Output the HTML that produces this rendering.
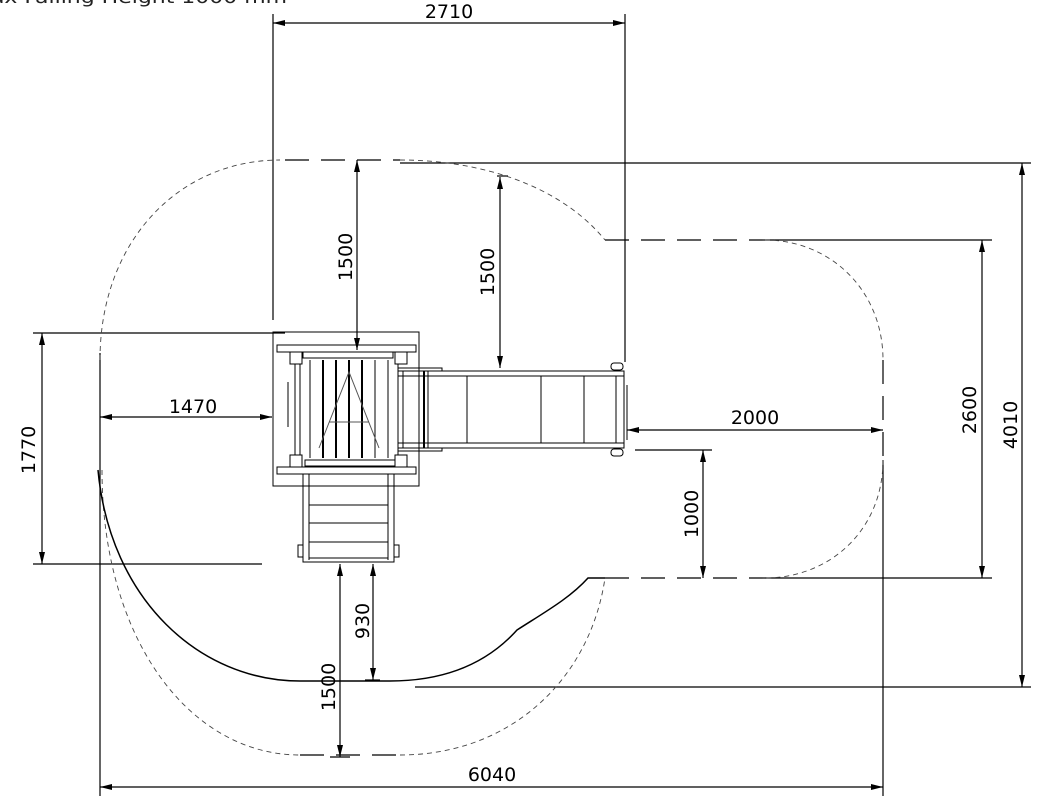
<!DOCTYPE html>
<html><head><meta charset="utf-8"><style>
html,body{margin:0;padding:0;background:#fff;}
svg{display:block;}
text{font-family:"DejaVu Sans","Liberation Sans",sans-serif;font-size:19px;fill:#000;}
</style></head><body>
<svg width="1041" height="812" viewBox="0 0 1041 812" xmlns="http://www.w3.org/2000/svg">
<defs>
<marker id="a" markerWidth="12" markerHeight="6" refX="12" refY="3" orient="auto-start-reverse" markerUnits="userSpaceOnUse">
<path d="M0,0 L12,3 L0,6 Z" fill="#000"/></marker>
</defs>
<text x="-28" y="3" textLength="315" lengthAdjust="spacingAndGlyphs" style="font-size:18px;fill:#222">Max Falling Height 1000 mm</text>
<g stroke="#000" stroke-width="1.2" fill="none">
<line x1="273" y1="14" x2="273" y2="320"/>
<line x1="625" y1="14" x2="625" y2="362"/>
<line x1="400" y1="163" x2="1031" y2="163"/>
<line x1="415" y1="687" x2="1031" y2="687"/>
<line x1="765" y1="240" x2="992" y2="240"/>
<line x1="765" y1="578" x2="992" y2="578"/>
<line x1="635" y1="450" x2="712" y2="450"/>
<line x1="33" y1="333" x2="285" y2="333"/>
<line x1="33" y1="564" x2="262" y2="564"/>
<line x1="100" y1="353" x2="100" y2="796"/>
<line x1="883" y1="460" x2="883" y2="796"/>
<line x1="330" y1="757" x2="350" y2="757"/>
<line x1="365" y1="680" x2="380" y2="680"/>
<line x1="497" y1="176" x2="508" y2="176"/>
<line x1="273" y1="23" x2="625" y2="23" marker-start="url(#a)" marker-end="url(#a)"/>
<line x1="357" y1="160" x2="357" y2="350" marker-start="url(#a)" marker-end="url(#a)"/>
<line x1="500" y1="177" x2="500" y2="368" marker-start="url(#a)" marker-end="url(#a)"/>
<line x1="1022" y1="163" x2="1022" y2="687" marker-start="url(#a)" marker-end="url(#a)"/>
<line x1="982" y1="240" x2="982" y2="578" marker-start="url(#a)" marker-end="url(#a)"/>
<line x1="703" y1="450" x2="703" y2="578" marker-start="url(#a)" marker-end="url(#a)"/>
<line x1="627" y1="430" x2="883" y2="430" marker-start="url(#a)" marker-end="url(#a)"/>
<line x1="100" y1="417" x2="272" y2="417" marker-start="url(#a)" marker-end="url(#a)"/>
<line x1="42" y1="333" x2="42" y2="564" marker-start="url(#a)" marker-end="url(#a)"/>
<line x1="373" y1="564" x2="373" y2="680" marker-start="url(#a)" marker-end="url(#a)"/>
<line x1="340" y1="564" x2="340" y2="757" marker-start="url(#a)" marker-end="url(#a)"/>
<line x1="100" y1="787" x2="883" y2="787" marker-start="url(#a)" marker-end="url(#a)"/>
</g>
<g stroke="#444" stroke-width="0.9" fill="none" stroke-dasharray="5,4">
<path d="M100,360 C100,240 180,160 280,160"/>
<path d="M400,160 C480,160 560,185 605,240"/>
<path d="M765,240 C830,240 883,290 883,360"/>
<path d="M883,460 C883,530 830,578 765,578"/>
<path d="M102,470 C102,640 190,755 300,755"/>
<path d="M400,755 C510,755 590,680 605,578"/>
</g>
<g stroke="#000" stroke-width="1.2" fill="none" stroke-dasharray="24,12">
<line x1="285" y1="160" x2="400" y2="160"/>
<line x1="605" y1="240" x2="765" y2="240"/>
<line x1="605" y1="578" x2="765" y2="578"/>
<line x1="300" y1="755" x2="400" y2="755"/>
<line x1="883" y1="360" x2="883" y2="460"/>
</g>
<path d="M98,470 C110,600 200,681 300,681 L390,681 C450,681 490,660 517,630 C545,612 570,598 588,578 L605,578" stroke="#000" stroke-width="1.5" fill="none"/>
<g stroke="#000" stroke-width="1" fill="none">
<rect x="273" y="332" width="146" height="154"/>
<rect x="277" y="345" width="139" height="7"/>
<rect x="277" y="467" width="139" height="7"/>
<rect x="303" y="352" width="90" height="6"/>
<rect x="305" y="460" width="90" height="6"/>
<rect x="290" y="352" width="12" height="12"/><rect x="395" y="352" width="12" height="12"/>
<rect x="290" y="455" width="12" height="12"/><rect x="395" y="455" width="12" height="12"/>
<line x1="295" y1="364" x2="295" y2="455"/><line x1="300" y1="364" x2="300" y2="455"/>
<line x1="398" y1="364" x2="398" y2="455"/>
<line x1="310" y1="360" x2="310" y2="458"/>
<line x1="323" y1="360" x2="323" y2="458" stroke-width="2"/>
<line x1="336" y1="360" x2="336" y2="458" stroke-width="2"/>
<line x1="349" y1="360" x2="349" y2="458" stroke-width="2"/>
<line x1="362" y1="360" x2="362" y2="458" stroke-width="2"/>
<line x1="375" y1="360" x2="375" y2="458"/>
<line x1="388" y1="360" x2="388" y2="458"/>
<path d="M319,448 L349,372 L379,448 M329,422 L369,422" stroke="#555"/>
<line x1="288" y1="382" x2="288" y2="427"/>
<rect x="398" y="371" width="226" height="77"/>
<line x1="398" y1="376" x2="624" y2="376"/>
<line x1="398" y1="443" x2="624" y2="443"/>
<line x1="403" y1="371" x2="403" y2="448"/>
<line x1="424" y1="371" x2="424" y2="448" stroke-width="2"/>
<line x1="428" y1="371" x2="428" y2="448"/>
<line x1="467" y1="376" x2="467" y2="443"/>
<line x1="541" y1="376" x2="541" y2="443"/>
<line x1="584" y1="376" x2="584" y2="443"/>
<line x1="616" y1="376" x2="616" y2="443"/>
<rect x="398" y="368" width="44" height="3"/>
<rect x="398" y="448" width="44" height="3"/>
<rect x="611" y="363" width="12" height="7" rx="3"/>
<rect x="611" y="449" width="12" height="7" rx="3"/>
<line x1="627" y1="385" x2="627" y2="440"/>
<rect x="303" y="474" width="91" height="88"/>
<line x1="309" y1="474" x2="309" y2="560"/>
<line x1="388" y1="474" x2="388" y2="560"/>
<line x1="309" y1="505" x2="388" y2="505"/>
<line x1="309" y1="523" x2="388" y2="523"/>
<line x1="309" y1="542" x2="388" y2="542"/>
<line x1="309" y1="558" x2="388" y2="558"/>
<rect x="298" y="545" width="5" height="12"/>
<rect x="394" y="545" width="5" height="12"/>
</g>
<text x="449" y="18" text-anchor="middle">2710</text>
<text x="193" y="413" text-anchor="middle">1470</text>
<text x="755" y="424" text-anchor="middle">2000</text>
<text x="492" y="781" text-anchor="middle">6040</text>
<text transform="translate(352,257) rotate(-90)" text-anchor="middle">1500</text>
<text transform="translate(494,272) rotate(-90)" text-anchor="middle">1500</text>
<text transform="translate(35,450) rotate(-90)" text-anchor="middle">1770</text>
<text transform="translate(698,514) rotate(-90)" text-anchor="middle">1000</text>
<text transform="translate(976,410) rotate(-90)" text-anchor="middle">2600</text>
<text transform="translate(1017,425) rotate(-90)" text-anchor="middle">4010</text>
<text transform="translate(369,621) rotate(-90)" text-anchor="middle">930</text>
<text transform="translate(335,687) rotate(-90)" text-anchor="middle">1500</text>
</svg>
</body></html>
